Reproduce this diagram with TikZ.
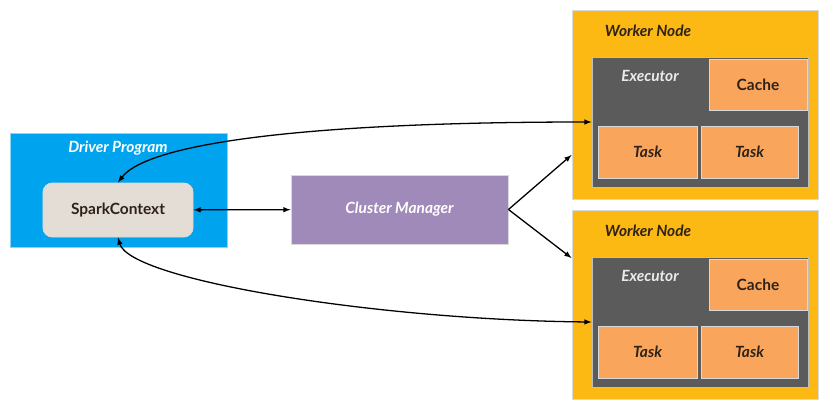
\documentclass[tikz,border=0pt]{standalone}
\usepackage{fontspec}
\setmainfont{Lato}
\usetikzlibrary{calc}
\definecolor{driverblue}{HTML}{00A3EE}
\definecolor{driverline}{HTML}{8CD3F5}
\definecolor{sparkfill}{HTML}{E4DDD5}
\definecolor{cmpurple}{HTML}{A08AB9}
\definecolor{workeryellow}{HTML}{FDB913}
\definecolor{execgray}{HTML}{5B5B5B}
\definecolor{taskorange}{HTML}{F9A65C}
\definecolor{darktext}{HTML}{2E2218}

\begin{document}
\begin{tikzpicture}[x=0.03cm, y=-0.03cm,
  box/.style={draw=black!15, line width=0.8pt, inner sep=0pt},
  lbl/.style={font=\fontsize{13.2}{15}\selectfont\bfseries\itshape},
  orangebox/.style={box, fill=taskorange, text=darktext, minimum height=1.56cm},
  link/.style={latex-latex, line width=1.1pt}]
  \useasboundingbox (0,0) rectangle (831,411);
  % draw driver program and cluster manager
  \node[box, draw=driverline, fill=driverblue, minimum width=6.51cm, minimum height=3.42cm] (driver) at (118.5,190) {};
  \node[lbl, text=white] (driverlbl) at (118,148) {Driver Program};
  \node[box, fill=sparkfill, rounded corners=8pt, minimum width=4.5cm, minimum height=1.62cm,
        font=\fontsize{13.2}{15}\selectfont\bfseries, text=darktext] (spark) at (118,210) {SparkContext};
  \node[box, fill=cmpurple, minimum width=6.51cm, minimum height=2.07cm, lbl, text=white] (cm) at (399.5,209.5) {Cluster Manager};
  % draw worker nodes
  \foreach \i/\dy in {1/0, 2/200} {
    \node[box, fill=workeryellow, minimum width=7.38cm, minimum height=5.67cm] (w\i) at (695,105+\dy) {};
    \node[lbl, text=darktext] (wlbl\i) at (648,31+\dy) {Worker Node};
    \node[box, draw=black!25, fill=execgray, minimum width=6.48cm, minimum height=3.9cm] (exec\i) at (700,122+\dy) {};
    \node[lbl, text=white!92!black] (elbl\i) at (650,76+\dy) {Executor};
    \node[orangebox, minimum width=2.94cm, minimum height=1.53cm, font=\fontsize{13.2}{15}\selectfont\bfseries] (cache\i) at (758,84.5+\dy) {Cache};
    \node[orangebox, minimum width=2.97cm, lbl] (taska\i) at (647.5,152+\dy) {Task};
    \node[orangebox, minimum width=2.91cm, lbl] (taskb\i) at (749.5,152+\dy) {Task};
  }
  % draw connectors
  \draw[link] (spark) -- (cm);
  \draw[-latex, line width=1.1pt] (cm.east) -- ($(w1.west)+(0,50)$);
  \draw[-latex, line width=1.1pt] (cm.east) -- ($(w2.west)+(0,-47)$);
  \draw[link] (spark.north) .. controls +(30,-40) and +(-280,0) .. (exec1.west);
  \draw[link] (spark.south) .. controls +(12,43) and +(-212,-2) .. (exec2.west);
\end{tikzpicture}
\end{document}
